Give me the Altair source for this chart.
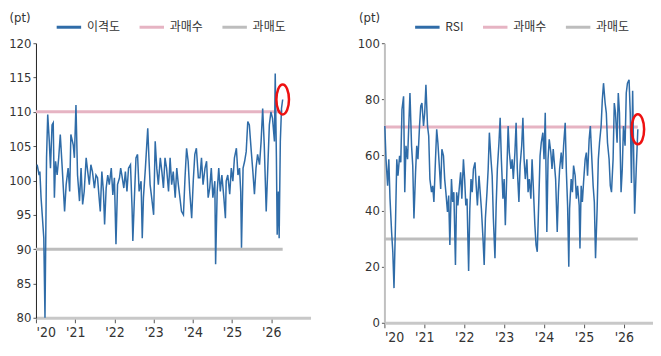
import altair as alt
import pandas as pd

# ---- 이격도 (left panel) ----
disp_years = [2020.03, 2020.08, 2020.10, 2020.13, 2020.16, 2020.20, 2020.23, 2020.27, 2020.30, 2020.34,
              2020.37, 2020.41, 2020.44, 2020.47, 2020.50, 2020.54, 2020.58, 2020.62, 2020.67, 2020.73,
              2020.77, 2020.82, 2020.86, 2020.89, 2020.95, 2020.98, 2021.02, 2021.06, 2021.11, 2021.15,
              2021.19, 2021.23, 2021.28, 2021.32, 2021.36, 2021.40, 2021.44, 2021.49, 2021.53, 2021.57,
              2021.61, 2021.64, 2021.68, 2021.72, 2021.75, 2021.79, 2021.83, 2021.87, 2021.92, 2021.96,
              2022.00, 2022.04, 2022.08, 2022.13, 2022.16, 2022.19, 2022.24, 2022.28, 2022.32, 2022.36,
              2022.41, 2022.45, 2022.47, 2022.51, 2022.55, 2022.59, 2022.63, 2022.68, 2022.71, 2022.74,
              2022.79, 2022.83, 2022.85, 2022.88, 2022.91, 2022.95, 2023.00, 2023.04, 2023.08, 2023.12,
              2023.17, 2023.21, 2023.25, 2023.29, 2023.33, 2023.38, 2023.42, 2023.46, 2023.50, 2023.55,
              2023.59, 2023.63, 2023.67, 2023.71, 2023.76, 2023.80, 2023.84, 2023.88, 2023.92, 2023.97,
              2024.01, 2024.05, 2024.09, 2024.14, 2024.18, 2024.22, 2024.26, 2024.31, 2024.35, 2024.39,
              2024.43, 2024.47, 2024.51, 2024.56, 2024.58, 2024.62, 2024.66, 2024.70, 2024.74, 2024.79,
              2024.83, 2024.85, 2024.89, 2024.94, 2024.98, 2025.02, 2025.06, 2025.11, 2025.15, 2025.19,
              2025.22, 2025.24, 2025.28, 2025.32, 2025.36, 2025.40, 2025.44, 2025.49, 2025.53, 2025.57,
              2025.61, 2025.65, 2025.70, 2025.74, 2025.78, 2025.82, 2025.87, 2025.91, 2025.95, 2025.99,
              2026.03, 2026.08, 2026.10, 2026.13, 2026.15, 2026.18, 2026.20, 2026.23, 2026.26, 2026.29]
disp_values = [102.3, 100.8, 101.3, 97.5, 95.0, 91.6, 80.0, 103.3, 109.6, 105.7,
               101.8, 108.1, 108.4, 97.5, 102.8, 100.8, 103.3, 106.7, 101.8, 95.5,
               99.4, 101.8, 98.4, 106.7, 105.2, 103.3, 111.0, 100.8, 97.0, 101.8,
               96.5, 98.4, 103.3, 101.3, 99.4, 102.3, 101.3, 98.9, 100.8, 100.4,
               97.5, 95.5, 101.3, 98.4, 93.6, 98.9, 100.8, 99.4, 101.8, 97.9,
               100.4, 90.7, 99.4, 100.4, 101.8, 100.8, 98.9, 101.3, 98.4, 101.8,
               102.3, 96.0, 91.2, 97.5, 103.3, 103.8, 98.4, 99.9, 91.6, 97.5,
               101.8, 105.7, 107.6, 103.3, 99.4, 97.5, 95.0, 105.7, 101.8, 99.4,
               103.3, 101.3, 98.9, 103.3, 101.8, 98.4, 103.3, 99.4, 101.3, 97.5,
               101.8, 99.4, 97.5, 95.5, 95.0, 100.4, 104.7, 102.8, 98.4, 94.5,
               99.9, 103.8, 104.7, 100.4, 100.4, 103.3, 99.4, 101.8, 102.8, 97.5,
               98.9, 101.8, 97.5, 99.9, 87.8, 98.4, 101.8, 98.4, 100.8, 97.5,
               94.5, 99.9, 100.8, 98.0, 101.8, 99.9, 103.3, 104.7, 100.8, 101.8,
               98.4, 90.2, 101.8, 102.8, 104.2, 108.6, 108.1, 104.2, 101.3, 98.0,
               101.8, 103.8, 102.3, 105.7, 110.5, 105.2, 95.5, 101.8, 108.1, 110.0,
               109.1, 105.7, 115.6, 103.3, 92.1, 98.4, 91.6, 105.7, 110.5, 111.8]

# ---- RSI (right panel) ----
rsi_years = [2020.01, 2020.04, 2020.08, 2020.11, 2020.14, 2020.18, 2020.21, 2020.24, 2020.28, 2020.31,
             2020.34, 2020.38, 2020.41, 2020.44, 2020.48, 2020.51, 2020.54, 2020.58, 2020.61, 2020.64,
             2020.68, 2020.71, 2020.74, 2020.78, 2020.81, 2020.84, 2020.88, 2020.91, 2020.94, 2020.98,
             2021.01, 2021.04, 2021.08, 2021.11, 2021.14, 2021.18, 2021.21, 2021.24, 2021.28, 2021.31,
             2021.34, 2021.38, 2021.41, 2021.44, 2021.48, 2021.51, 2021.54, 2021.58, 2021.61, 2021.64,
             2021.68, 2021.71, 2021.74, 2021.78, 2021.81, 2021.84, 2021.88, 2021.91, 2021.94, 2021.98,
             2022.01, 2022.04, 2022.07, 2022.11, 2022.14, 2022.17, 2022.20, 2022.23, 2022.27, 2022.30,
             2022.33, 2022.37, 2022.40, 2022.43, 2022.47, 2022.50, 2022.53, 2022.57, 2022.60, 2022.63,
             2022.67, 2022.70, 2022.73, 2022.77, 2022.80, 2022.83, 2022.87, 2022.90, 2022.93, 2022.97,
             2023.00, 2023.03, 2023.07, 2023.10, 2023.13, 2023.17, 2023.20, 2023.23, 2023.27, 2023.30,
             2023.33, 2023.37, 2023.40, 2023.44, 2023.47, 2023.50, 2023.53, 2023.57, 2023.60, 2023.63,
             2023.67, 2023.70, 2023.73, 2023.77, 2023.80, 2023.83, 2023.87, 2023.90, 2023.93, 2023.97,
             2024.00, 2024.03, 2024.07, 2024.10, 2024.13, 2024.17, 2024.20, 2024.23, 2024.29, 2024.33,
             2024.36, 2024.39, 2024.43, 2024.46, 2024.49, 2024.53, 2024.56, 2024.59, 2024.62, 2024.64,
             2024.68, 2024.71, 2024.74, 2024.78, 2024.81, 2024.84, 2024.88, 2024.90, 2024.93, 2024.96,
             2024.99, 2025.03, 2025.06, 2025.09, 2025.13, 2025.16, 2025.19, 2025.23, 2025.26, 2025.29,
             2025.33, 2025.36, 2025.39, 2025.43, 2025.46, 2025.49, 2025.53, 2025.56, 2025.59, 2025.63,
             2025.66, 2025.69, 2025.73, 2025.76, 2025.79, 2025.83, 2025.86, 2025.89, 2025.93, 2025.96,
             2025.99, 2026.03, 2026.06, 2026.09, 2026.13, 2026.16, 2026.19, 2026.22, 2026.27, 2026.31,
             2026.35]
rsi_values = [70.4, 58.5, 49.0, 58.5, 44.4, 32.5, 25.4, 12.4, 37.3, 58.5,
              52.6, 59.7, 57.4, 76.3, 81.0, 46.7, 63.3, 58.5, 70.4, 82.2,
              63.3, 56.2, 37.3, 53.8, 63.3, 58.5, 70.4, 77.5, 78.6, 70.4,
              75.1, 85.1, 70.4, 66.8, 51.4, 46.7, 49.0, 43.2, 58.5, 69.2,
              64.4, 55.0, 47.9, 62.1, 59.7, 51.4, 46.7, 39.6, 45.5, 27.8,
              51.4, 43.2, 46.7, 20.7, 46.7, 42.0, 49.0, 53.8, 44.4, 58.5,
              51.4, 42.0, 44.4, 18.5, 40.8, 51.4, 46.7, 55.0, 57.4, 49.0,
              42.0, 52.6, 46.7, 40.8, 30.2, 20.7, 37.3, 46.7, 55.0, 68.0,
              58.5, 52.6, 37.3, 23.1, 42.0, 55.0, 64.4, 73.3, 58.5, 44.4,
              51.4, 34.9, 55.0, 70.4, 60.9, 55.0, 58.5, 51.4, 60.9, 71.5,
              55.0, 43.2, 56.2, 63.3, 73.3, 58.5, 51.4, 58.5, 46.7, 51.4,
              44.4, 58.5, 49.0, 34.9, 27.8, 25.4, 44.4, 59.7, 64.4, 68.0,
              58.5, 75.1, 32.5, 58.5, 65.6, 60.9, 55.0, 62.1, 51.4, 32.5,
              46.7, 55.0, 60.9, 55.0, 63.3, 71.5, 53.8, 42.0, 20.0, 40.8,
              51.4, 46.7, 56.2, 52.6, 44.4, 49.0, 42.0, 26.6, 49.0, 43.2,
              50.3, 58.5, 60.9, 52.6, 65.6, 70.4, 60.9, 49.0, 43.2, 23.1,
              40.8, 58.5, 64.4, 70.4, 79.8, 85.7, 78.6, 75.1, 64.4, 58.5,
              49.0, 46.7, 58.5, 78.6, 75.1, 64.4, 82.2, 75.1, 46.7, 55.0,
              70.4, 63.3, 82.2, 85.7, 86.9, 75.1, 50.0, 83.0, 39.0, 55.0,
              69.2]

disp_ticks = [80, 85, 90, 95, 100, 105, 110, 115, 120]
rsi_ticks = [0, 20, 40, 60, 80, 100]
year_ticks = [2020, 2021, 2022, 2023, 2024, 2025, 2026]

FONT = "DejaVu Sans Condensed, Liberation Sans Narrow, Noto Sans CJK KR, sans-serif"
KFONT = "Noto Sans CJK KR, sans-serif"
BLUE = "#2f6ca8"
PINK = "#e6b4c3"
GRAY = "#bdbdbd"
ELLIPSE = "M-0.42,0 A0.42,1 0 1,0 0.42,0 A0.42,1 0 1,0 -0.42,0 Z"


def panel(years, values, name, ticks, over, under, xmax, w, h, ycolor, ywidth, legend_x, title_x):
    df = pd.DataFrame({"year": years, "value": values, "series": name})
    end = years[-1]
    rules = pd.DataFrame({"year": [2020, 2020], "year2": [end, end],
                          "value": [over, under], "series": ["과매수", "과매도"]})
    last = df.tail(1)
    color = alt.Color(
        "series:N",
        scale=alt.Scale(domain=[name, "과매수", "과매도"], range=[BLUE, PINK, GRAY]),
        legend=alt.Legend(title=None, orient="none", legendX=legend_x, legendY=-30,
                          direction="horizontal", symbolType="stroke", symbolSize=600,
                          symbolStrokeWidth=3, labelFont=KFONT, labelFontSize=12,
                          labelColor="#333", columnPadding=12, labelOffset=4, padding=0),
    )
    xscale = alt.Scale(domain=[2020, xmax], nice=False, zero=False)
    yscale = alt.Scale(domain=[ticks[0], ticks[-1]], nice=False, zero=False)
    xaxis = alt.Axis(values=year_ticks, format="d", labelExpr="\"'\" + slice(datum.label, 2)",
                     grid=False, domainColor="#c8c8c8", domainWidth=3, tickColor="#555",
                     tickSize=5, labelFont=FONT, labelFontSize=14, labelColor="#333",
                     labelPadding=3, labelOverlap=False, title=None)
    yaxis = alt.Axis(values=ticks, tickCount=len(ticks), grid=False, domainColor=ycolor,
                     domainWidth=ywidth, tickColor="#555", tickSize=3, labelFont=FONT,
                     labelFontSize=13, labelColor="#333", labelPadding=2, labelOverlap=False,
                     title="(pt)", titleAngle=0, titleAlign="left", titleBaseline="middle",
                     titleX=title_x, titleY=-26, titleFont=FONT, titleFontSize=13,
                     titleFontWeight="normal", titleColor="#333")
    X = alt.X("year:Q", scale=xscale, axis=xaxis)
    Y = alt.Y("value:Q", scale=yscale, axis=yaxis)
    r = alt.Chart(rules).mark_rule(strokeWidth=3).encode(x=X, x2="year2:Q", y=Y, color=color)
    line = alt.Chart(df).mark_line(strokeWidth=1.5).encode(x=X, y=Y, color=color)
    circ = alt.Chart(last).mark_point(shape=ELLIPSE, size=900, color="#ee1111", strokeWidth=2.5,
                                      filled=False, opacity=1).encode(x=X, y=Y)
    return alt.layer(r, line, circ).properties(width=w, height=h)


left = panel(disp_years, disp_values, "이격도", disp_ticks, 110, 90, 2027.0, 275, 275,
             "#222", 1, 19, -27)
right = panel(rsi_years, rsi_values, "RSI", rsi_ticks, 70, 30, 2026.73, 269, 280,
              "#c0c0c0", 2, 29, -26)

chart = alt.hconcat(left, right, spacing=46).resolve_scale(
    color="independent", x="independent", y="independent"
).properties(padding={"left": 0, "top": 3, "right": 0, "bottom": 0}).configure_view(stroke=None)

chart.save("out.html", embed_options={"renderer": "svg", "actions": False})
